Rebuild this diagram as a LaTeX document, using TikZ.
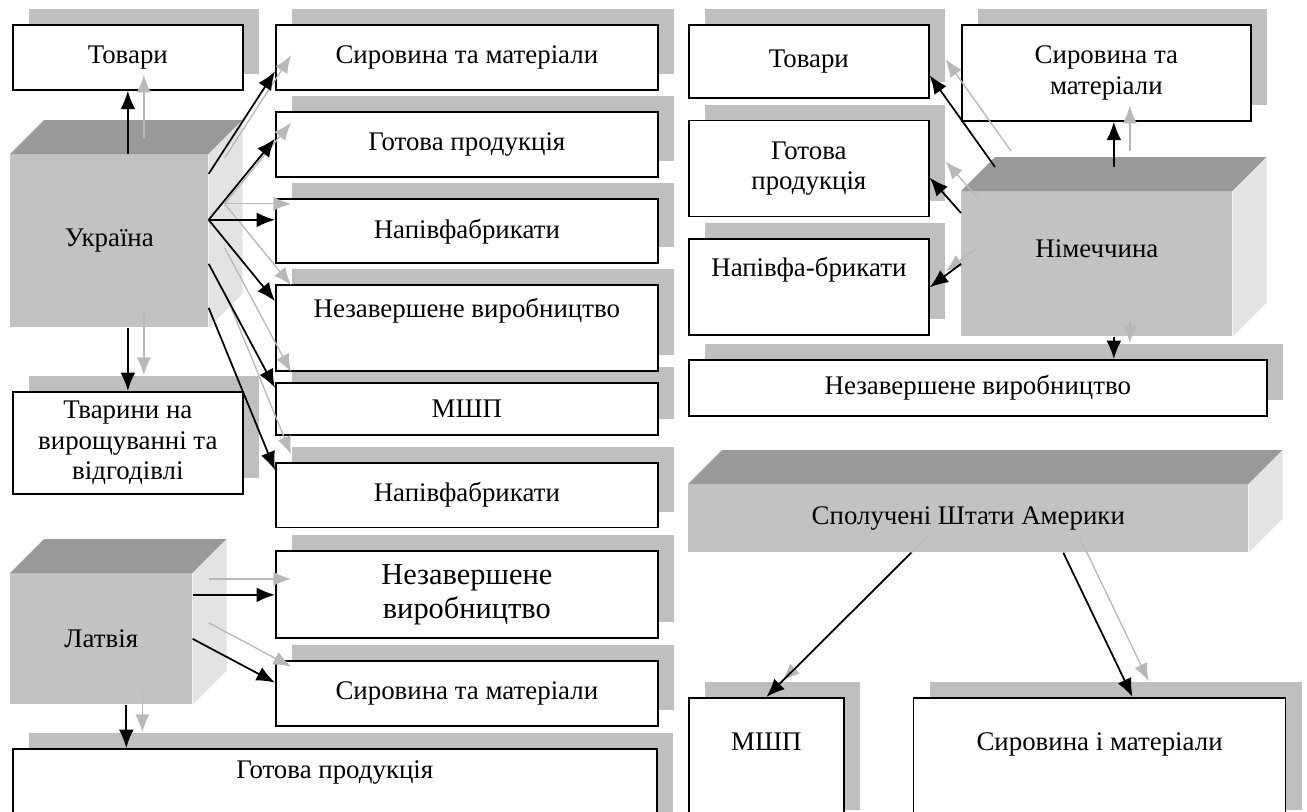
\documentclass[tikz,border=0pt]{standalone}
\usepackage{fontspec}
\setmainfont{Liberation Serif}
\usepackage{tikz}
\usetikzlibrary{arrows.meta, positioning, shadows}

\definecolor{shadowgrey}{gray}{0.75}
\definecolor{frontgrey}{gray}{0.76}
\definecolor{topgrey}{gray}{0.6}
\definecolor{sidegrey}{gray}{0.89}
\definecolor{arrowgrey}{gray}{0.72}

\newcommand{\boxfont}{\fontsize{15.3pt}{17.5pt}\selectfont}
\newcommand{\bigboxfont}{\fontsize{17.3pt}{19.5pt}\selectfont}
% top and side faces of a country block
\newcommand{\cubefaces}[1]{%
  \fill[topgrey] (#1.north west) -- ++(34,-34) -- ([shift={(34,-34)}]#1.north east) -- (#1.north east) -- cycle;
  \fill[sidegrey] (#1.north east) -- ++(34,-34) -- ([shift={(34,-34)}]#1.south east) -- (#1.south east) -- cycle;
}

\begin{document}
\begin{tikzpicture}[
    x=0.02cm, y=-0.02cm,
    box/.style={rectangle, draw, line width=1pt, fill=white, inner sep=2pt, align=center, font=\boxfont,
        drop shadow={shadow xshift=0.32cm, shadow yshift=0.32cm, fill=shadowgrey, draw=none, opacity=1}},
    colbox/.style={box, minimum width=7.64cm},
    cube/.style={rectangle, fill=frontgrey, inner sep=0pt, align=center, font=\boxfont},
    arrow/.style={-{Latex[length=10.5pt, width=8.5pt]}, line width=1pt},
    greyarrow/.style={-{Latex[length=10pt, width=8pt]}, line width=0.75pt, draw=arrowgrey, transform canvas={shift={(16,-16)}}}
]
\useasboundingbox (0,0) rectangle (1307,811);
\clip (0,0) rectangle (1307,811);

% Ukraine
\node[box, anchor=north west, minimum width=4.6cm, minimum height=1.3cm] (tov1) at (12,24) {Товари};
\node[cube, anchor=north west, minimum width=3.96cm, minimum height=3.46cm] (ua) at (10,154) {Україна};
\cubefaces{ua}
\node[box, anchor=north west, minimum width=4.6cm, minimum height=2.04cm] (tv) at (12,391) {Тварини на\\вирощуванні та\\відгодівлі};

% Column of stocks
\node[colbox, anchor=north west, minimum height=1.3cm] (sm1) at (275,24) {Сировина та матеріали};
\node[colbox, below=0.41cm of sm1, minimum height=1.3cm] (gp1) {Готова продукція};
\node[colbox, below=0.41cm of gp1, minimum height=1.28cm] (nf1) {Напівфабрикати};
\node[colbox, anchor=north west, minimum height=1.04cm] (mshp1) at (275,382) {МШП};
\node[colbox, above=0.2cm of mshp1, minimum height=1.72cm] (nz1) {Незавершене виробництво\\\strut};
\node[colbox, below=0.52cm of mshp1, minimum height=1.3cm] (nf2) {Напівфабрикати};
\node[colbox, below=0.44cm of nf2, minimum height=1.74cm, font=\bigboxfont] (nz2) {Незавершене\\виробництво};
\node[colbox, below=0.42cm of nz2, minimum height=1.3cm] (sm2) {Сировина та матеріали};

% Latvia
\node[cube, anchor=north west, minimum width=3.64cm, minimum height=2.62cm] (la) at (10,573) {Латвія};
\cubefaces{la}
\node[box, anchor=north west, minimum width=12.88cm, minimum height=1.64cm] (gp2) at (12,748) {Готова продукція\\\strut};

% Germany
\node[box, anchor=north west, minimum width=4.8cm, minimum height=1.46cm] (tov2) at (688,24) {Товари};
\node[box, below=0.42cm of tov2, minimum width=4.8cm, minimum height=1.92cm] (gp3) {Готова\\продукція};
\node[box, below=0.42cm of gp3, minimum width=4.8cm, minimum height=1.92cm] (nf3) {Напівфа-брикати\\\strut};
\node[box, anchor=north west, minimum width=5.78cm, minimum height=1.92cm] (smr) at (961,24) {Сировина та\\матеріали};
\node[cube, anchor=north west, minimum width=5.42cm, minimum height=2.9cm] (de) at (961,191) {Німеччина\\\mbox{}};
\cubefaces{de}
\node[box, anchor=north west, minimum width=11.56cm, minimum height=1.12cm] (nzr) at (688,359) {Незавершене виробництво};

% USA
\node[cube, anchor=north west, minimum width=11.2cm, minimum height=1.36cm] (us) at (688,484) {Сполучені Штати Америки};
\cubefaces{us}
\node[box, anchor=north west, minimum width=3.1cm, minimum height=2.56cm] (mshp2) at (688,697) {МШП\\\strut};
\node[box, right=1.36cm of mshp2, minimum width=7.44cm, minimum height=2.56cm] (sim) {Сировина і матеріали\\\strut};

% Arrow start points
\coordinate (ufan) at ([shift={(0,-21)}]ua.east);
\coordinate (ld) at ([shift={(25,0)}]la.south);
\coordinate (dt) at ([shift={(17,-24)}]de.north);
\coordinate (dd) at ([shift={(17,0)}]de.south);

% Arrows - grey copies
\draw[greyarrow] ([shift={(0,-67)}]ua.east) -- ([shift={(0,14)}]sm1.west);
\draw[greyarrow] (ufan) -- ([shift={(0,-6)}]gp1.west);
\draw[greyarrow] (ufan) -- (nf1.west |- ufan);
\draw[greyarrow] (ufan) -- ([shift={(0,-27)}]nz1.west);
\draw[greyarrow] ([shift={(0,23)}]ua.east) -- ([shift={(0,-21)}]mshp1.west);
\draw[greyarrow] ([shift={(0,67)}]ua.east) -- ([shift={(0,-25)}]nf2.west);
\draw[greyarrow] (tov1.south |- ua.north) -- (tov1.south);
\draw[greyarrow] (tv.north |- ua.south) -- (tv.north);
\draw[greyarrow] (la.east |- nz2.west) -- (nz2.west);
\draw[greyarrow] (la.east) -- ([shift={(0,-11)}]sm2.west);
\draw[greyarrow] (ld) -- (ld |- gp2.north);
\draw[greyarrow] ([shift={(34,-24)}]de.north west) -- ([shift={(0,14)}]tov2.east);
\draw[greyarrow] ([shift={(0,22)}]de.north west) -- ([shift={(0,9)}]gp3.east);
\draw[greyarrow] (de.west) -- (nf3.east);
\draw[greyarrow] (dt) -- (dt |- smr.south);
\draw[greyarrow] (dd) -- (dd |- nzr.north);
\draw[greyarrow] ([shift={(-57,0)}]us.south) -- (mshp2.north);
\draw[greyarrow] ([shift={(95,0)}]us.south) -- ([shift={(33,0)}]sim.north);

% Arrows - black
\draw[arrow] ([shift={(0,-67)}]ua.east) -- ([shift={(0,14)}]sm1.west);
\draw[arrow] (ufan) -- ([shift={(0,-6)}]gp1.west);
\draw[arrow] (ufan) -- (nf1.west |- ufan);
\draw[arrow] (ufan) -- ([shift={(0,-27)}]nz1.west);
\draw[arrow] ([shift={(0,23)}]ua.east) -- ([shift={(0,-21)}]mshp1.west);
\draw[arrow] ([shift={(0,67)}]ua.east) -- ([shift={(0,-25)}]nf2.west);
\draw[arrow] (tov1.south |- ua.north) -- (tov1.south);
\draw[arrow] (tv.north |- ua.south) -- (tv.north);
\draw[arrow] (la.east |- nz2.west) -- (nz2.west);
\draw[arrow] (la.east) -- ([shift={(0,-11)}]sm2.west);
\draw[arrow] (ld) -- (ld |- gp2.north);
\draw[arrow] ([shift={(34,-24)}]de.north west) -- ([shift={(0,14)}]tov2.east);
\draw[arrow] ([shift={(0,22)}]de.north west) -- ([shift={(0,9)}]gp3.east);
\draw[arrow] (de.west) -- (nf3.east);
\draw[arrow] (dt) -- (dt |- smr.south);
\draw[arrow] (dd) -- (dd |- nzr.north);
\draw[arrow] ([shift={(-57,0)}]us.south) -- (mshp2.north);
\draw[arrow] ([shift={(95,0)}]us.south) -- ([shift={(33,0)}]sim.north);

\end{tikzpicture}
\end{document}
